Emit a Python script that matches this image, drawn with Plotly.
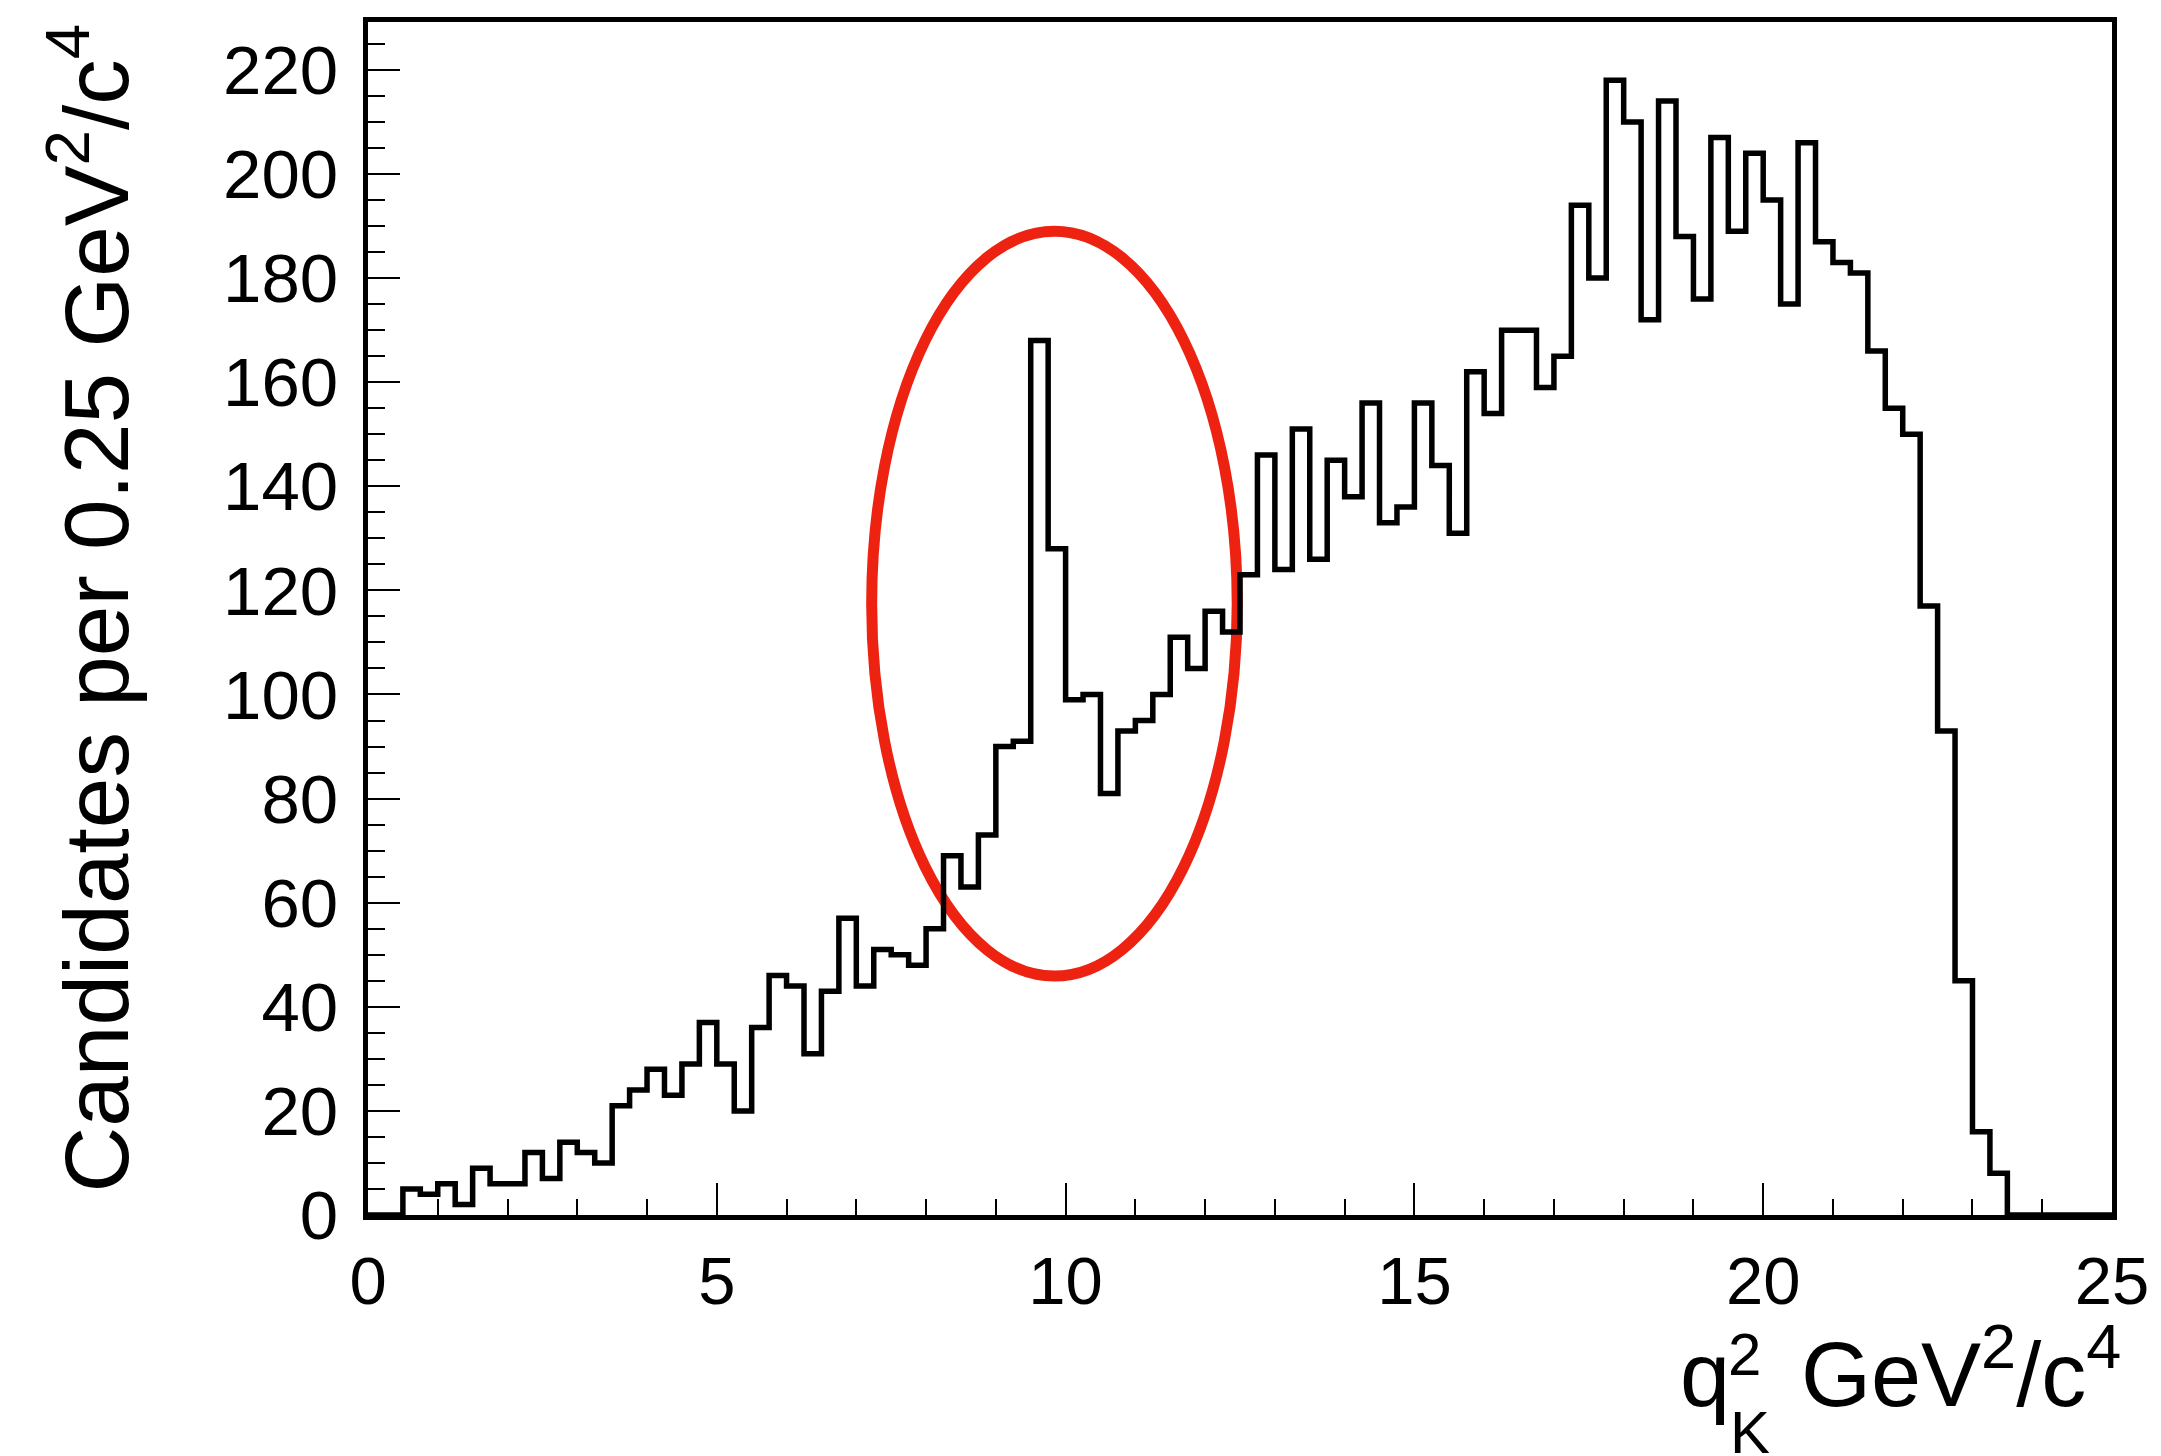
import numpy as np
import plotly.graph_objects as go

# q^2 histogram: 100 bins of 0.25 GeV^2/c^4 from 0 to 25
bin_low = 0.0
bin_width = 0.25
counts = [
    0, 0, 5, 4, 6, 2, 9, 6, 6, 12,
    7, 14, 12, 10, 21, 24, 28, 23, 29, 37,
    29, 20, 36, 46, 44, 31, 43, 57, 44, 51,
    50, 48, 55, 69, 63, 73, 90, 91, 168, 128,
    99, 100, 81, 93, 95, 100, 111, 105, 116, 112,
    123, 146, 124, 151, 126, 145, 138, 156, 133, 136,
    156, 144, 131, 162, 154, 170, 170, 159, 165, 194,
    180, 218, 210, 172, 214, 188, 176, 207, 189, 204,
    195, 175, 206, 187, 183, 181, 166, 155, 150, 117,
    93, 45, 16, 8, 0, 0, 0, 0, 0, 0,
]

# highlighted region (J/psi peak), ellipse bounds in data units
ring_q2 = [7.22, 12.46]
ring_counts = [45.9, 189.0]

x_ticks = [0, 5, 10, 15, 20, 25]
y_ticks = [0, 20, 40, 60, 80, 100, 120, 140, 160, 180, 200, 220]

n = len(counts)
edges = bin_low + bin_width * np.arange(n + 1)
step_y = list(counts) + [counts[-1]]

FONT = "Liberation Sans, Arial, Helvetica, sans-serif"

fig = go.Figure()
fig.add_trace(go.Scatter(
    x=edges, y=step_y, mode="lines", line_shape="hv",
    line=dict(color="black", width=5.5), showlegend=False, hoverinfo="skip",
))

fig.add_shape(
    type="circle", xref="x", yref="y", layer="below",
    x0=ring_q2[0], x1=ring_q2[1], y0=ring_counts[0], y1=ring_counts[1],
    line=dict(color="#ee2211", width=11),
)

W, H = 2161, 1456
L, R, T, B = 368, 43, 22, 241
plot_w = W - L - R
plot_h = H - T - B


def px_x(px):
    return (px - L) / plot_w


def px_y(py):
    return (H - B - py) / plot_h


fig.update_xaxes(
    range=[0, 25], tickvals=x_ticks, ticktext=[str(v) for v in x_ticks],
    ticks="inside", ticklen=32, tickwidth=2, tickcolor="black",
    minor=dict(dtick=1, tick0=0, ticks="inside", ticklen=16, tickwidth=2,
               tickcolor="black", showgrid=False),
    showline=True, linecolor="black", linewidth=5, mirror=True,
    showgrid=False, zeroline=False,
    tickfont=dict(family=FONT, size=67, color="black"),
    ticklabelstandoff=4,
)
fig.update_yaxes(
    range=[0, 229.2], tickvals=y_ticks, ticktext=[str(v) for v in y_ticks],
    ticks="inside", ticklen=32, tickwidth=2, tickcolor="black",
    minor=dict(dtick=5, tick0=0, ticks="inside", ticklen=17, tickwidth=2,
               tickcolor="black", showgrid=False),
    showline=True, linecolor="black", linewidth=5, mirror=True,
    showgrid=False, zeroline=False,
    tickfont=dict(family=FONT, size=69, color="black"),
    ticklabelstandoff=11,
)

annotations = [
    # y-axis title, rotated, aligned to the top of the frame
    dict(text="Candidates per 0.25 GeV<sup>2</sup>/c<sup>4</sup>",
         xref="paper", yref="paper", x=px_x(88), y=px_y(21),
         xanchor="center", yanchor="top", textangle=-90, showarrow=False,
         font=dict(family=FONT, size=91, color="black")),
    # x-axis title: q with stacked superscript 2 and subscript K
    dict(text="q", xref="paper", yref="paper", x=px_x(1683), y=px_y(1427),
         xanchor="left", yanchor="bottom", showarrow=False,
         font=dict(family=FONT, size=90, color="black")),
    dict(text="2", xref="paper", yref="paper", x=px_x(1731), y=px_y(1390),
         xanchor="left", yanchor="bottom", showarrow=False,
         font=dict(family=FONT, size=60, color="black")),
    dict(text="K", xref="paper", yref="paper", x=px_x(1733), y=px_y(1468),
         xanchor="left", yanchor="bottom", showarrow=False,
         font=dict(family=FONT, size=60, color="black")),
    dict(text="GeV<sup>2</sup>/c<sup>4</sup>", xref="paper", yref="paper",
         x=px_x(2129), y=px_y(1427), xanchor="right", yanchor="bottom",
         showarrow=False, font=dict(family=FONT, size=90, color="black")),
]

fig.update_layout(
    width=W, height=H,
    margin=dict(l=L, r=R, t=T, b=B, pad=0),
    paper_bgcolor="white", plot_bgcolor="white",
    annotations=annotations,
    showlegend=False,
)

fig.write_html("out.html")
